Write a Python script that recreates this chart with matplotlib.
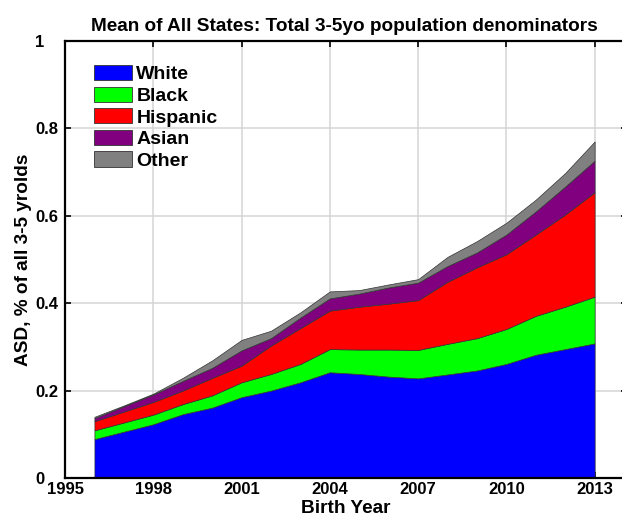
import matplotlib
matplotlib.use("Agg")
import matplotlib.pyplot as plt
import numpy as np

years = list(range(1996, 2014))
white = [0.089, 0.106, 0.123, 0.146, 0.161, 0.185, 0.200, 0.219, 0.242, 0.238, 0.232, 0.228, 0.237, 0.246, 0.261, 0.282, 0.295, 0.308]
black = [0.020, 0.021, 0.022, 0.023, 0.028, 0.034, 0.038, 0.042, 0.053, 0.056, 0.062, 0.065, 0.070, 0.074, 0.080, 0.089, 0.097, 0.107]
hispanic = [0.021, 0.025, 0.029, 0.031, 0.040, 0.038, 0.065, 0.082, 0.088, 0.098, 0.105, 0.114, 0.142, 0.162, 0.171, 0.186, 0.211, 0.239]
asian = [0.007, 0.012, 0.017, 0.022, 0.023, 0.035, 0.017, 0.024, 0.028, 0.030, 0.037, 0.040, 0.036, 0.034, 0.045, 0.053, 0.064, 0.072]
other = [0.003, 0.002, 0.002, 0.007, 0.017, 0.024, 0.017, 0.012, 0.016, 0.008, 0.007, 0.008, 0.021, 0.026, 0.027, 0.027, 0.031, 0.044]
labels = ["White", "Black", "Hispanic", "Asian", "Other"]
colors = ["#0000ff", "#00ff00", "#ff0000", "#800080", "#808080"]
xticks = [1995, 1998, 2001, 2004, 2007, 2010, 2013]
yticks = [0, 0.2, 0.4, 0.6, 0.8, 1]
yticklabels = ["0", "0.2", "0.4", "0.6", "0.8", "1"]

plt.rcParams['font.family'] = ['Liberation Sans', 'DejaVu Sans']
plt.rcParams['font.weight'] = 'bold'

W, H = 622, 519
fig = plt.figure(figsize=(W / 100, H / 100), dpi=100)
ax = fig.add_axes([65 / W, 41 / H, 562 / W, 437 / H])

ax.stackplot(years, white, black, hispanic, asian, other,
             colors=colors, labels=labels, edgecolor="#333333", linewidth=0.5)

ax.set_xlim(1995, 2014.1)
ax.set_ylim(0, 1)
ax.set_xticks(xticks)
ax.set_yticks(yticks)
ax.set_yticklabels(yticklabels)
ax.grid(True, color="#d4d4d4", linewidth=1.1)
ax.set_axisbelow(True)
ax.tick_params(direction="in", top=True, right=True, length=4, width=1.2,
               labelsize=12)
ax.tick_params(axis="x", pad=3)
ax.tick_params(axis="y", pad=21.5)
for lab in ax.get_xticklabels() + ax.get_yticklabels():
    lab.set_fontweight("bold")
for lab in ax.get_yticklabels():
    lab.set_horizontalalignment("left")
for s in ax.spines.values():
    s.set_linewidth(1.6)

ax.set_title("Mean of All States: Total 3-5yo population denominators",
             fontsize=13.7, fontweight="bold", pad=7.5, x=(344 - 65) / 562)
ax.set_xlabel("Birth Year", fontsize=13.7, fontweight="bold", labelpad=2)
ax.set_ylabel("ASD, % of all 3-5 yrolds", fontsize=13.7, fontweight="bold", labelpad=2)

leg = ax.legend(loc="upper left", bbox_to_anchor=((94 - 65) / 562, (478 - 65) / 437),
                frameon=False, prop={"size": 14, "weight": "bold"},
                handlelength=1.93, handleheight=0.82, handletextpad=0.25,
                labelspacing=0.17, borderaxespad=0, borderpad=0)
for p in leg.get_patches():
    p.set_edgecolor("#333333")
    p.set_linewidth(0.6)

fig.savefig("out.png", dpi=100)
